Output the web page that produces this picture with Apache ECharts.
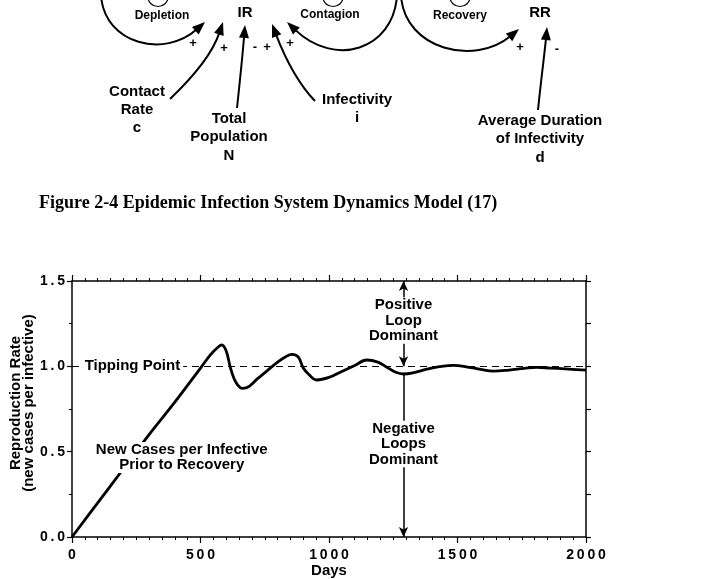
<!DOCTYPE html>
<html>
<head>
<meta charset="utf-8">
<script src="https://cdn.jsdelivr.net/npm/echarts@6/dist/echarts.min.js"></script>
<style>
  html, body { margin: 0; padding: 0; background: #fff; }
  #chart { width: 714px; height: 579px; }
</style>
</head>
<body>
<div id="chart"></div>
<script>
// simulated reproduction rate
const days = [0, 100, 200, 300, 400, 500, 540, 570, 583, 600, 615, 630, 645, 661, 680, 720, 760, 800, 830, 855,
  880, 900, 920, 952, 1000, 1050, 1100, 1147, 1190, 1225, 1260, 1290, 1330, 1380, 1430, 1484, 1540, 1590,
  1640, 1700, 1760, 1808, 1860, 1920, 2000];
const rate = [0, 0.2, 0.4, 0.6, 0.79, 0.99, 1.07, 1.115, 1.125, 1.09, 1.0, 0.93, 0.89, 0.871, 0.875, 0.925, 0.975,
  1.025, 1.055, 1.07, 1.055, 0.99, 0.955, 0.92, 0.935, 0.97, 1.005, 1.037, 1.025, 0.995, 0.965, 0.955, 0.963,
  0.983, 0.998, 1.006, 0.996, 0.982, 0.972, 0.978, 0.988, 0.994, 0.99, 0.985, 0.978];

const tippingPoint = 1.0;
const dominanceDay = 1290;

// [day, rate, text]
const notes = [
  [235, 1.0, 'Tipping Point'],
  [427, 0.466, 'New Cases per Infective\nPrior to Recovery'],
  [1290, 1.268, 'Positive\nLoop\nDominant'],
  [1290, 0.545, 'Negative\nLoops\nDominant']
];

const SANS = '"Liberation Sans", Arial, Helvetica, sans-serif';
const INK = '#000';

// spread the digits a little like the original typesetting
const spaced = s => String(s).split('').join('\u2009');

// causal loop diagram above the chart (cut off at the top)
function arrow(p0, c1, c2, p3) {
  const dx = p3[0] - c2[0], dy = p3[1] - c2[1];
  const len = Math.sqrt(dx * dx + dy * dy);
  const ux = dx / len, uy = dy / len;
  const L = 13, W = 5;
  const bx = p3[0] - ux * L, by = p3[1] - uy * L;
  return [
    { type: 'bezierCurve', shape: { x1: p0[0], y1: p0[1], cpx1: c1[0], cpy1: c1[1], cpx2: c2[0], cpy2: c2[1], x2: bx + ux * 2, y2: by + uy * 2 },
      style: { stroke: INK, lineWidth: 2, fill: null } },
    { type: 'polygon', shape: { points: [p3, [bx - uy * W, by + ux * W], [bx + uy * W, by - ux * W]] },
      style: { fill: INK } }
  ];
}
function label(text, x, y, size, lh) {
  return { type: 'text', x: x, y: y, style: { text: text, fill: INK, font: 'bold ' + size + 'px ' + SANS,
    align: 'center', verticalAlign: 'middle', lineHeight: lh || size } };
}
function loopCircle(cx) {
  return { type: 'ellipse', shape: { cx: cx, cy: -3, rx: 10, ry: 9.5 }, style: { stroke: INK, lineWidth: 1.2, fill: null } };
}

const diagram = [].concat(
  arrow([101, -4], [105, 45], [165, 58], [205, 22]),
  arrow([397, -4], [393, 50], [335, 68], [287, 22]),
  arrow([401, -4], [405, 50], [475, 66], [519, 29]),
  arrow([170, 99], [190, 80], [212, 55], [223, 22]),
  arrow([237, 108], [240, 80], [243, 50], [245, 25]),
  arrow([315, 101], [295, 80], [282, 50], [272, 24]),
  arrow([538, 110], [541, 80], [545, 50], [547, 27]),
  [
    loopCircle(158), loopCircle(333), loopCircle(460),
    label('Depletion', 162, 16, 12), label('Contagion', 330, 15, 12), label('Recovery', 460, 16, 12),
    label('IR', 245, 13, 15), label('RR', 540, 13, 15),
    label('+', 193, 43, 13), label('+', 224, 48, 13), label('-', 255, 47, 13), label('+', 267, 47, 13),
    label('+', 290, 43, 13), label('+', 520, 47, 13), label('-', 557, 49, 13),
    label('Contact\nRate\nc', 137, 110, 15, 18.3),
    label('Total\nPopulation\nN', 229, 137, 15, 18.4),
    label('Infectivity\ni', 357, 109, 15, 18.5),
    label('Average Duration\nof Infectivity\nd', 540, 139, 15, 18.5),
    { type: 'text', x: 39, y: 203, style: { text: 'Figure 2-4 Epidemic Infection System Dynamics Model (17)',
      fill: INK, font: 'bold 18px "Liberation Serif", "Times New Roman", serif', align: 'left', verticalAlign: 'middle' } }
  ]
);

const frame = { show: true, onZero: false, lineStyle: { color: INK, width: 1.5 } };
const tick = len => ({ show: true, length: len, lineStyle: { color: INK, width: 1.2 } });

const chart = echarts.init(document.getElementById('chart'));
chart.setOption({
  animation: false,
  backgroundColor: '#fff',
  graphic: diagram,
  grid: { left: 72, right: 128, top: 281, bottom: 42, containLabel: false, outerBoundsMode: 'none' },
  xAxis: [
    {
      type: 'value', min: 0, max: 2000, interval: 500, position: 'bottom',
      axisLine: frame, axisTick: tick(6),
      minorTick: { show: true, splitNumber: 10, length: 3, lineStyle: { color: INK, width: 1 } },
      splitLine: { show: false },
      axisLabel: { color: INK, fontFamily: SANS, fontWeight: 'bold', fontSize: 14, margin: 11, formatter: v => spaced(v) },
      name: 'Days', nameLocation: 'middle', nameGap: 26, nameMoveOverlap: false,
      nameTextStyle: { color: INK, fontFamily: SANS, fontWeight: 'bold', fontSize: 15 }
    },
    {
      type: 'value', min: 0, max: 2000, interval: 500, position: 'top',
      axisLine: frame, axisTick: tick(6),
      minorTick: { show: true, splitNumber: 10, length: 3, lineStyle: { color: INK, width: 1 } },
      splitLine: { show: false }, axisLabel: { show: false }
    }
  ],
  yAxis: [
    {
      type: 'value', min: 0, max: 1.5, interval: 0.5, position: 'left',
      axisLine: frame, axisTick: tick(5),
      minorTick: { show: true, splitNumber: 2, length: 3, lineStyle: { color: INK, width: 1 } },
      splitLine: { show: false },
      axisLabel: { color: INK, fontFamily: SANS, fontWeight: 'bold', fontSize: 14, margin: 7, formatter: v => spaced(v.toFixed(1)) },
      name: 'Reproduction Rate\n(new cases per infective)', nameLocation: 'middle', nameRotate: 90, nameGap: 37,
      nameMoveOverlap: false,
      nameTextStyle: { color: INK, fontFamily: SANS, fontWeight: 'bold', fontSize: 15, lineHeight: 13, padding: [0, 0, 0, 12] }
    },
    {
      type: 'value', min: 0, max: 1.5, interval: 0.25, position: 'right',
      axisLine: frame, axisTick: tick(5), splitLine: { show: false }, axisLabel: { show: false }
    }
  ],
  series: [
    {
      name: 'New cases per infective', type: 'line', data: days.map((d, i) => [d, rate[i]]),
      smooth: 0.4, showSymbol: false, z: 3,
      lineStyle: { color: INK, width: 2.8 },
      markLine: {
        silent: true, symbol: 'none', label: { show: false },
        data: [
          { yAxis: tippingPoint, lineStyle: { color: INK, width: 1.2, type: [7, 5] } },
          [{ coord: [dominanceDay, 1.0], symbol: 'arrow' }, { coord: [dominanceDay, 1.5], symbol: 'arrow' }],
          [{ coord: [dominanceDay, 0.955], symbol: 'none' }, { coord: [dominanceDay, 0], symbol: 'arrow' }]
        ],
        symbolSize: [7, 10],
        lineStyle: { color: INK, width: 1.5, type: 'solid' }
      }
    },
    {
      name: 'notes', type: 'scatter', data: notes, symbolSize: 0, z: 6,
      itemStyle: { color: INK, opacity: 1 }, silent: true,
      label: {
        show: true, position: 'inside', formatter: p => p.data[2],
        color: INK, fontFamily: SANS, fontWeight: 'bold', fontSize: 15, lineHeight: 15.5,
        align: 'center', verticalAlign: 'middle', backgroundColor: '#fff', padding: [0, 3]
      }
    }
  ]
});
</script>
</body>
</html>
